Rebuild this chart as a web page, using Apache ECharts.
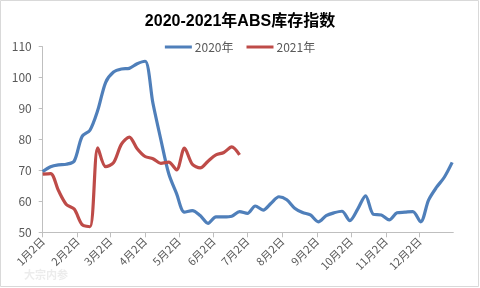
<!DOCTYPE html>
<html>
<head>
<meta charset="utf-8">
<script src="https://cdn.jsdelivr.net/npm/echarts@6/dist/echarts.min.js"></script>
<style>html,body{margin:0;padding:0;background:#fff}#c{width:480px;height:288px}</style>
</head>
<body>
<div id="c"></div>
<script>
// Tick labels (month 2nd) and their day offsets from Jan 2
var tickLabels = ['1月2日','2月2日','3月2日','4月2日','5月2日','6月2日','7月2日','8月2日','9月2日','10月2日','11月2日','12月2日'];
var tickDays = [0, 31, 60, 91, 121, 152, 182, 213, 244, 274, 305, 335];

// Weekly readings
var values2020 = [69.6, 71.2, 71.8, 72.0, 73.0, 81.0, 83.0, 89.5, 98.5, 101.8, 102.8, 103.0, 104.5, 105.3,
  91.7, 80.0, 69.0, 62.5, 56.5, 57.0, 55.4, 52.9, 55.0, 55.0, 55.2, 56.7, 56.1, 58.5, 57.2, 59.4,
  61.5, 60.5, 57.8, 56.4, 55.6, 53.4, 55.4, 56.3, 56.8, 53.8, 57.5, 61.8, 55.8, 55.6, 54.0, 56.3,
  56.5, 56.7, 53.4, 60.4, 64.5, 67.8, 72.6];
var values2021 = [68.8, 69.0, 63.5, 59.0, 57.5, 52.5, 51.8, 77.3, 71.2, 72.5, 78.5, 80.8, 77.0, 74.5,
  73.8, 72.3, 72.7, 70.2, 77.2, 72.0, 70.8, 73.0, 75.0, 75.8, 77.6, 75.0];

var seriesNames = ['2020年', '2021年'];

function toPairs(vals) {
  return vals.map(function (v, i) { return [i * 7, v]; });
}

var chart = echarts.init(document.getElementById('c'));
var font = "'Noto Sans CJK SC', 'DejaVu Sans', sans-serif";
chart.setOption({
  animation: false,
  backgroundColor: '#fff',
  title: {
    text: '2020-2021年ABS库存指数',
    left: 'center',
    top: 9,
    textStyle: { fontSize: 16, fontWeight: 'bold', color: '#000', fontFamily: "'Liberation Sans', 'Noto Sans CJK SC', sans-serif" }
  },
  legend: {
    data: seriesNames,
    top: 36,
    left: 'center',
    itemWidth: 27,
    itemHeight: 3,
    itemGap: 13,
    icon: 'rect',
    textStyle: { fontSize: 12, color: '#595959', fontFamily: font, padding: [0, 0, 0, -2] }
  },
  grid: { left: 42.7, right: 26.7, top: 46.7, bottom: 55.7, containLabel: false },
  xAxis: {
    type: 'value',
    min: 0,
    max: 365,
    splitLine: { show: false },
    axisLine: { show: true, lineStyle: { color: '#bfbfbf', width: 1 } },
    axisTick: { show: true, length: 5, lineStyle: { color: '#bfbfbf' }, customValues: tickDays },
    axisLabel: {
      customValues: tickDays,
      rotate: 45,
      margin: 7,
      fontSize: 11,
      color: '#595959',
      fontFamily: font,
      formatter: function (v) {
        var i = tickDays.indexOf(Math.round(v));
        return i >= 0 ? tickLabels[i] : '';
      }
    }
  },
  yAxis: {
    type: 'value',
    min: 50,
    max: 110,
    interval: 10,
    splitLine: { show: false },
    axisLine: { show: true, lineStyle: { color: '#bfbfbf', width: 1 } },
    axisTick: { show: true, inside: false, length: 4, lineStyle: { color: '#bfbfbf' } },
    axisLabel: { fontSize: 12, color: '#595959', margin: 11, fontFamily: font }
  },
  series: [
    {
      name: seriesNames[0], type: 'line', smooth: 0.3, showSymbol: false, symbol: 'none',
      data: toPairs(values2020),
      lineStyle: { color: '#4f7fba', width: 3.2 }, itemStyle: { color: '#4f7fba' }
    },
    {
      name: seriesNames[1], type: 'line', smooth: 0.3, showSymbol: false, symbol: 'none',
      data: toPairs(values2021),
      lineStyle: { color: '#be4b48', width: 3.2 }, itemStyle: { color: '#be4b48' }
    }
  ],
  graphic: [
    { type: 'rect', shape: { x: 0.5, y: 0.5, width: 478, height: 286 }, style: { fill: 'none', stroke: '#d9d9d9', lineWidth: 1 }, silent: true },
    { type: 'text', left: 24, top: 269, style: { text: '大宗内参', fill: 'rgba(200,200,200,0.35)', font: "bold 11px 'Noto Sans CJK SC'" }, silent: true }
  ]
});
</script>
</body>
</html>
